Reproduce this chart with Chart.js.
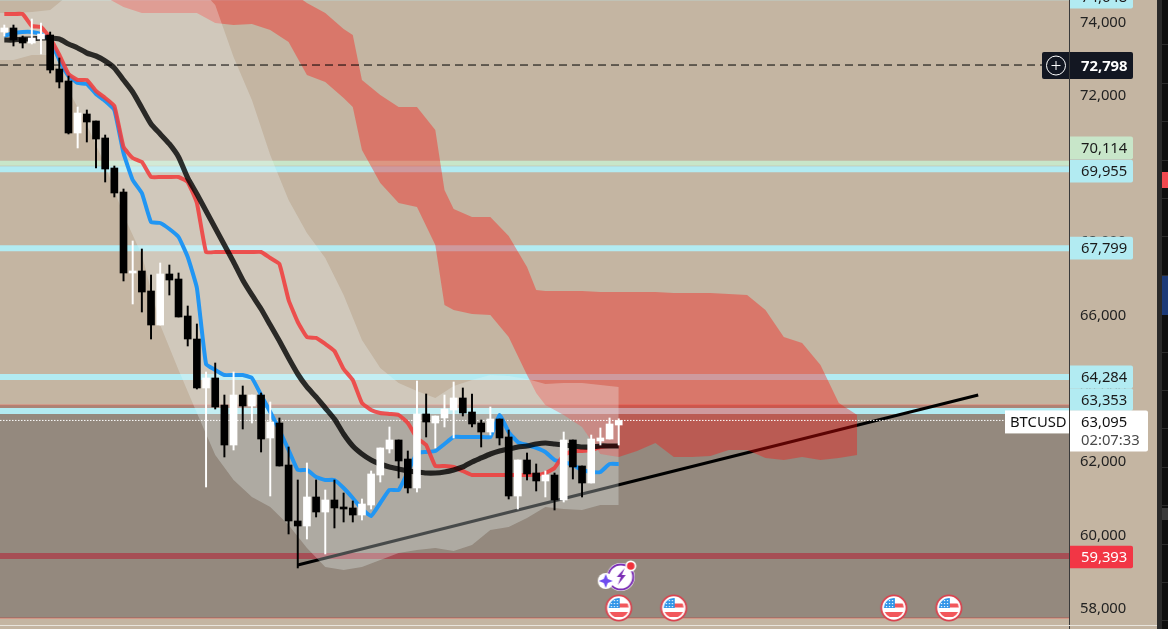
<!DOCTYPE html>
<html>
<head>
<meta charset="utf-8">
<title>BTCUSD</title>
<script src="https://cdn.jsdelivr.net/npm/chart.js@4"></script>
<style>
    html, body { margin: 0; padding: 0; background: #c4b5a2; overflow: hidden; }
    #wrap { position: relative; width: 1168px; height: 629px; overflow: hidden; }
    #btc { position: absolute; left: 0; top: 0; }
    #sep { position: absolute; left: 0; top: 625px; width: 1157px; height: 1px; background: #e8e4dc; }
    #side { position: absolute; left: 1157px; top: 0; width: 5px; height: 629px; background: #2a2a2a; }
    #rail {
        position: absolute; left: 1162px; top: 0; width: 6px; height: 629px; background: #0f0f0f;
        background-image: repeating-linear-gradient(to bottom, #0f0f0f 0, #0f0f0f 37.4px, #2c2c2c 37.4px, #2c2c2c 38.4px);
        background-position: 0 7px;
    }
    .chip { position: absolute; left: 1162px; width: 6px; }
</style>
</head>
<body>
<div id="wrap">
    <canvas id="btc" width="1168" height="629"></canvas>
    <div id="sep"></div>
    <div id="side"></div>
    <div id="rail"></div>
    <div class="chip" style="top:172px;height:16px;background:#f0484e"></div>
    <div class="chip" style="top:276px;height:39px;background:#1c3a78"></div>
    <div class="chip" style="top:508px;height:12px;background:#3a3a3a"></div>
</div>
<script>
'use strict';

// ------------------------------------------------------- //
// Candles
// ------------------------------------------------------ //
var opens = [73699,73809,73536,73399,73508,73618,72689,72362,70942,71461,71270,70806,69987,69331,67120,67175,66629,65700,67093,66956,
    65946,65318,63981,64254,63516,62424,63789,63489,63789,62616,63025,61878,60350,60213,61005,60595,60923,60732,60705,60513,
    60786,61605,62315,62561,62042,61251,63271,63025,63162,63380,63708,63325,63025,62779,63134,62643,61032,62015,61660,61442,
    61605,60923,62561,61851,61387,62534,62588,62970];
var highs = [73890,73890,73590,74054,73945,73699,72990,72498,71652,71570,71270,70887,70041,69413,67994,67775,67065,67393,67338,67120,
    66219,65728,64417,64663,63789,64417,64035,63789,63844,63598,63162,62370,61469,61933,61469,61196,61469,61114,60896,60950,
    61715,62343,62916,62561,62261,64172,63817,63216,63789,64144,63981,63817,63107,63462,63134,62834,62015,62206,61906,61715,
    61660,62779,62561,61851,62697,62889,63162,63140];
var lows = [73590,73317,73263,73372,73099,72580,72171,70915,70533,70696,69987,69604,69195,66902,66274,66055,65318,65700,66519,65919,
    65127,63953,61278,63407,62097,62288,62861,63025,62233,61032,61851,59995,59067,59858,60459,59449,60159,60322,60322,60377,
    60677,61414,62206,61524,61114,61141,62643,62343,62916,62616,63216,62916,62370,62697,62424,60950,60677,61469,61169,61005,
    60650,60868,61496,61005,61387,62424,62588,62424];
var closes = [73809,73481,73399,73536,73645,72662,72334,70942,71488,71242,70778,69959,69304,67120,67175,66601,65700,67093,66929,65919,
    65318,63981,64254,63462,62424,63789,63489,63789,62588,63052,61851,60350,60213,61005,60595,60923,60705,60677,60513,60814,
    61633,62343,62561,61988,61251,63271,63052,63216,63407,63708,63298,62998,62779,63134,62616,61032,62015,61633,61442,61605,
    60923,62561,61824,61387,62588,62616,62998,63095];

// ------------------------------------------------------- //
// Moving lines, one value per candle
// ------------------------------------------------------ //
var blueLine = [73590,73672,73699,73699,73645,73481,72935,72498,72307,72280,72007,71816,71570,70396,69659,69304,68512,68485,68321,68103,
    67557,66711,64636,64472,64335,64335,64335,64254,63789,63325,62834,62288,61742,61742,61551,61469,61469,61251,60978,60677,
    60486,60841,61196,61196,61688,62206,62233,62261,62452,62643,62643,62643,62643,62643,63244,62779,62506,62424,62343,62233,
    62015,61960,61879,61742,61688,61688,61906,61906];
var redLine = [74191,74191,74191,73863,73836,73536,73072,72553,72389,72389,72089,71898,71679,70560,70260,70151,69741,69741,69741,69741,
    69604,69031,67693,67693,67693,67693,67693,67693,67693,67530,67366,66383,65782,65373,65346,65182,64991,64499,64199,63571,
    63380,63298,63271,63244,63025,62616,62424,61851,61851,61824,61715,61605,61605,61605,61605,61605,61605,61605,61605,61660,
    61797,62151,62261,62261,62288,62370,62397,62397];
var blackLine = [73481,73481,73508,73508,73536,73536,73508,73372,73263,73126,73044,72908,72717,72389,72061,71625,71188,70915,70642,70287,
    69714,69277,68813,68349,67885,67420,66929,66520,66137,65700,65264,64800,64363,64008,63735,63435,63134,62725,62397,62179,
    62015,61906,61824,61769,61715,61688,61660,61660,61688,61742,61824,61960,62070,62179,62261,62315,62370,62397,62452,62479,
    62452,62424,62397,62370,62370,62397,62397,62397];

// ------------------------------------------------------- //
// Light envelope
// ------------------------------------------------------ //
var bandIndex = [-1,1,3,5,7,9,11,13,15,17,19,21,23,25,27,29,31,33,35,37,39,41,43,45,47,49,51,53,55,57,59,61,63,65,67];
var bandUpper = [74218,74218,74245,74300,74710,75119,75392,75665,75665,75665,75392,74983,74437,73017,71843,70342,69113,68212,67530,66520,
    65291,64527,64117,63899,63708,64035,64199,64335,64308,64226,64090,64117,64117,64063,64008];
var bandLower = [72935,72935,73072,73072,72116,71161,70069,68704,67612,65700,64472,63298,62152,61469,61005,60732,60240,59613,59094,59012,
    59094,59285,59476,59558,59613,59531,59695,60104,60186,60432,60732,60677,60650,60786,60786];

// ------------------------------------------------------- //
// Red cloud
// ------------------------------------------------------ //
var cloudIndex = [11,13,15,17,19,21,23,25,27,29,31,33,35,37,38,39,41,43,45,47,48,49,51,53,55,57,58,59,61,63,65,67,69,71,73,75,77,79,81,83,85,87,89,91,93];
var cloudUpper = [76211,76211,76211,76211,76211,76211,76211,76211,76211,76211,74846,74491,74218,73781,73617,72389,71980,71652,71652,71024,69386,68867,
    68649,68649,68130,67284,66656,66629,66629,66629,66601,66601,66601,66601,66574,66574,66574,66547,66520,66110,65373,65209,64609,63571,63244];
var cloudLower = [74655,74382,74218,74218,74218,74218,73945,73890,73918,73754,73426,72526,72334,71898,71652,70478,69577,69031,68922,67885,66247,66110,
    66001,65974,65373,64335,63844,63516,63244,62916,62179,62097,62261,62479,62097,62097,62124,62288,62288,62070,62015,62097,62015,62070,62152];

// ------------------------------------------------------- //
// Levels, trend, events, axis
// ------------------------------------------------------ //
var tickValues = [58000, 60000, 62000, 64000, 66000, 68000, 70000, 72000, 74000];
var cyanLevels = [74648, 69955, 67799, 64284, 63353];
var greenLevel = 70114;
var redLevel = 59393;
var roseLevel = 63461;
var zoneTop = 63516;
var zoneBottom = 57702;
var lastPrice = 63095;
var crossPrice = 72798;
var trendIndex = [32, 106.2];
var trendPrice = [59149, 63789];
var flagIndex = [67, 73, 97, 103];
var flagPrice = [57975, 57975, 57975, 57975];
var boltIndex = [67];
var boltPrice = [58821];
var priceMin = 57401;
var priceMax = 74573;
var indexMin = -0.469;
var indexMax = 116.1;

var candleIndex = opens.map(function (v, i) { return i; });

function xy(xs, ys) {
    return xs.map(function (x, i) { return { x: x, y: ys[i] }; });
}
function flat(price) {
    return [{ x: indexMin, y: price }, { x: indexMax, y: price }];
}
function num(v) {
    return v.toLocaleString('en-US');
}

var candleColors = closes.map(function (c, i) { return c >= opens[i] ? '#ffffff' : '#000000'; });

var axisFont = '"Noto Sans", sans-serif';

// little canvases used as point styles for the events
function flagIcon() {
    var c = document.createElement('canvas');
    c.width = 30; c.height = 30;
    var g = c.getContext('2d');
    g.beginPath(); g.arc(15, 15, 12.6, 0, Math.PI * 2); g.fillStyle = '#fff'; g.fill();
    g.lineWidth = 1.8; g.strokeStyle = '#d9434f'; g.stroke();
    g.save();
    g.beginPath(); g.arc(15, 15, 10, 0, Math.PI * 2); g.clip();
    g.fillStyle = '#f2575b';
    g.fillRect(15, 10.5, 12, 4);
    g.fillRect(3, 19, 24, 5);
    g.fillStyle = '#2f94e8';
    g.fillRect(4, 4, 12, 11);
    g.fillStyle = '#fff';
    [7, 10, 13].forEach(function (x) {
        [7, 10, 13].forEach(function (y) { g.fillRect(x, y, 1.2, 1.2); });
    });
    g.restore();
    return c;
}
function boltIcon() {
    var c = document.createElement('canvas');
    c.width = 44; c.height = 40;
    var g = c.getContext('2d');
    g.beginPath(); g.arc(24, 20, 14, 0, Math.PI * 2); g.fillStyle = '#fff'; g.fill();
    g.lineWidth = 2; g.strokeStyle = '#7b2fb5';
    g.beginPath(); g.arc(24, 20, 12.5, 0, Math.PI * 2); g.stroke();
    g.fillStyle = '#7b2fb5';
    g.beginPath();
    g.moveTo(28, 11); g.lineTo(20, 20); g.lineTo(24, 20); g.lineTo(21, 28); g.lineTo(29, 18); g.lineTo(25, 18);
    g.closePath(); g.fill();
    // star on the left
    g.fillStyle = '#fff';
    g.beginPath(); g.arc(9, 24, 8, 0, Math.PI * 2); g.fill();
    g.fillStyle = '#6f4df0';
    g.beginPath();
    g.moveTo(9, 17); g.lineTo(11, 22); g.lineTo(16, 24); g.lineTo(11, 26); g.lineTo(9, 31); g.lineTo(7, 26); g.lineTo(2, 24); g.lineTo(7, 22);
    g.closePath(); g.fill();
    // red dot
    g.fillStyle = '#fff';
    g.beginPath(); g.arc(34, 9, 5.5, 0, Math.PI * 2); g.fill();
    g.fillStyle = '#f0323c';
    g.beginPath(); g.arc(34, 9, 3.8, 0, Math.PI * 2); g.fill();
    return c;
}

// ------------------------------------------------------- //
// Price tags on the axis
// ------------------------------------------------------ //
var priceTags = {
    id: 'priceTags',
    afterDraw: function (chart) {
        var g = chart.ctx;
        var y = chart.scales.y;
        var left = chart.chartArea.right + 1;

        function box(x, top, w, h, color) {
            g.fillStyle = color;
            g.beginPath();
            g.roundRect(x, top, w, h, [0, 2, 2, 0]);
            g.fill();
        }
        function label(text, x, cy, color, font) {
            g.fillStyle = color;
            g.font = font || ('14.8px ' + axisFont);
            g.textAlign = 'left';
            g.textBaseline = 'middle';
            g.fillText(text, x, cy);
        }
        function tag(price, color, textColor, shift) {
            var cy = y.getPixelForValue(price) + (shift || 0);
            box(left, cy - 11.3, 63, 22.6, color);
            label(num(price), left + 11, cy + 1, textColor);
        }

        g.save();
        tag(cyanLevels[0], '#b2ebf2', '#1a1a1a');
        tag(greenLevel, '#c8e6c9', '#1a1a1a', -15.5);
        tag(cyanLevels[1], '#b2ebf2', '#1a1a1a', 2);
        tag(cyanLevels[2], '#b2ebf2', '#1a1a1a');
        tag(cyanLevels[3], '#b2ebf2', '#1a1a1a');
        tag(cyanLevels[4], '#b2ebf2', '#1a1a1a', -11.5);
        tag(redLevel, '#f23645', '#ffffff', 1);

        // crosshair price
        var cy = y.getPixelForValue(crossPrice);
        g.fillStyle = '#131722';
        g.beginPath();
        g.roundRect(left - 28, cy - 13, 91, 27, 2);
        g.fill();
        g.strokeStyle = '#3a3a3a';
        g.lineWidth = 1;
        g.beginPath(); g.moveTo(left - 0.5, cy - 13); g.lineTo(left - 0.5, cy + 14); g.stroke();
        label(num(crossPrice), left + 11, cy + 1.5, '#ffffff', 'bold 14.8px ' + axisFont);
        g.strokeStyle = '#ffffff';
        g.beginPath(); g.arc(left - 14, cy + 0.5, 9.5, 0, Math.PI * 2); g.stroke();
        g.beginPath();
        g.moveTo(left - 18.5, cy + 0.5); g.lineTo(left - 9.5, cy + 0.5);
        g.moveTo(left - 14, cy - 4); g.lineTo(left - 14, cy + 5);
        g.stroke();

        // last price with countdown and symbol name
        var py = y.getPixelForValue(lastPrice);
        box(left, py - 10, 78, 41, '#ffffff');
        label(num(lastPrice), left + 11, py + 2, '#111111');
        label('02:07:33', left + 11, py + 20.5, '#4a4a4a');
        g.fillStyle = '#ffffff';
        g.fillRect(left - 65, py - 10, 64, 23);
        label('BTCUSD', left - 60, py + 2, '#111111');
        g.restore();
    }
};

// ------------------------------------------------------- //
// Chart
// ------------------------------------------------------ //
var noPoint = { pointRadius: 0, pointHoverRadius: 0 };

function lineSet(points, color, width, order, extra) {
    return Object.assign({
        type: 'line',
        data: points,
        borderColor: color,
        borderWidth: width,
        borderJoinStyle: 'round',
        fill: false,
        order: order
    }, noPoint, extra || {});
}

var datasets = [
    {
        type: 'bar',
        data: candleIndex.map(function (i) { return { x: i, y: [opens[i], closes[i]] }; }),
        backgroundColor: candleColors,
        barThickness: 7,
        grouped: false,
        order: 1
    },
    {
        type: 'bar',
        data: candleIndex.map(function (i) { return { x: i, y: [lows[i], highs[i]] }; }),
        backgroundColor: candleColors,
        barThickness: 1.3,
        grouped: false,
        order: 2
    },
    lineSet(xy(candleIndex, blackLine), 'rgba(0,0,0,0.8)', 5.2, 3, { tension: 0.2 }),
    lineSet(xy(candleIndex, redLine), 'rgba(240,62,62,0.88)', 4, 4, { tension: 0.12 }),
    lineSet(xy(candleIndex, blueLine), '#2196f3', 4, 5, { tension: 0.12 }),
    lineSet(flat(lastPrice), '#ffffff', 1, 6, { borderDash: [1.5, 1.5] }),
    lineSet(flat(crossPrice), '#000000', 1, 6, { borderDash: [8, 5] }),
    lineSet(xy(bandIndex, bandUpper), 'rgba(0,0,0,0)', 0, 7, { fill: '+1', backgroundColor: 'rgba(235,245,245,0.3)' }),
    lineSet(xy(bandIndex, bandLower), 'rgba(0,0,0,0)', 0, 7),
    lineSet(xy(cloudIndex, cloudUpper), 'rgba(0,0,0,0)', 0, 8, { fill: '+1', backgroundColor: 'rgba(255,10,8,0.36)' }),
    lineSet(xy(cloudIndex, cloudLower), 'rgba(0,0,0,0)', 0, 8),
    lineSet(xy(trendIndex, trendPrice), '#000000', 3, 9),
    lineSet(flat(redLevel), '#a64e55', 6, 10),
    lineSet(flat(roseLevel), 'rgba(240,120,100,0.25)', 5, 11)
];

cyanLevels.forEach(function (price) {
    datasets.push(lineSet(flat(price), '#b2ebf2', 6, 10));
});
datasets.push(lineSet(flat(greenLevel), '#c8e6c9', 5, 11));
datasets.push(lineSet(flat(zoneTop), 'rgba(232,110,95,0.5)', 1, 12, { fill: '+1', backgroundColor: 'rgba(4,9,18,0.25)' }));
datasets.push(lineSet(flat(zoneBottom), 'rgba(232,110,95,0.55)', 1.5, 12));

datasets.push({
    type: 'line', showLine: false,
    data: xy(flagIndex, flagPrice),
    pointStyle: flagIcon(), pointRadius: 14, order: 0
});
datasets.push({
    type: 'line', showLine: false,
    data: xy(boltIndex, boltPrice),
    pointStyle: boltIcon(), pointRadius: 14, order: 0
});

new Chart(document.getElementById('btc'), {
    type: 'line',
    data: { datasets: datasets },
    plugins: [priceTags],
    options: {
        responsive: false,
        animation: false,
        events: [],
        layout: { padding: 0, autoPadding: false },
        plugins: { legend: { display: false }, tooltip: { enabled: false } },
        scales: {
            x: {
                type: 'linear',
                display: false,
                offset: false,
                min: indexMin,
                max: indexMax
            },
            y: {
                type: 'linear',
                position: 'right',
                min: priceMin,
                max: priceMax,
                beginAtZero: false,
                afterFit: function (scale) {
                    // keep the plot the full height of the canvas
                    scale.width = 99;
                    scale.paddingTop = 0;
                    scale.paddingBottom = 0;
                },
                afterBuildTicks: function (scale) {
                    scale.ticks = tickValues.map(function (v) { return { value: v }; });
                },
                grid: { display: false, drawTicks: false },
                border: { display: true, color: '#3a3a3a', width: 1 },
                ticks: {
                    autoSkip: false,
                    padding: 11,
                    labelOffset: 1.5,
                    color: '#222222',
                    font: { family: axisFont, size: 14.8 },
                    callback: function (v) { return num(v); }
                }
            }
        }
    }
});
</script>
</body>
</html>
